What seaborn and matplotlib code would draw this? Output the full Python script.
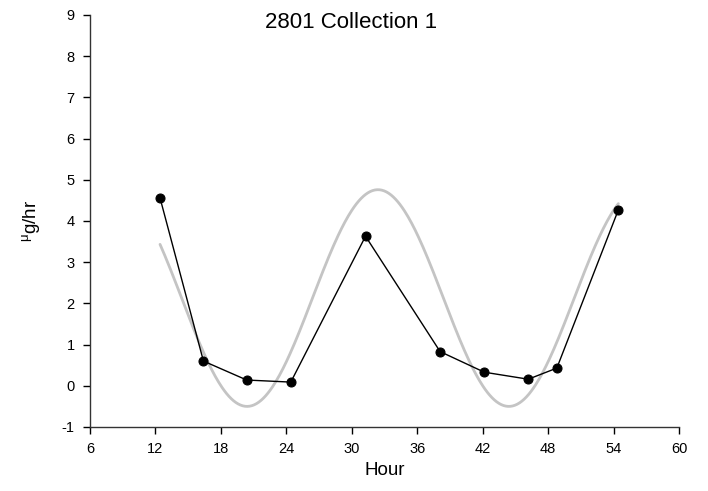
import numpy as np
import pandas as pd
import matplotlib
matplotlib.use("Agg")
import matplotlib.pyplot as plt
import seaborn as sns

# Observed data
hours = [12.42, 16.40, 20.37, 24.41, 31.26, 38.10, 42.15, 46.18, 48.80, 54.44]
rates = [4.56, 0.60, 0.14, 0.09, 3.63, 0.83, 0.33, 0.16, 0.43, 4.27]

# Fitted cosinor parameters
mesor = 2.13
amplitude = 2.63
acrophase = 32.4
period = 24.0

x_ticks = [6, 12, 18, 24, 30, 36, 42, 48, 54, 60]
y_ticks = [-1, 0, 1, 2, 3, 4, 5, 6, 7, 8, 9]

sns.set_style("ticks")
plt.rcParams["font.family"] = ["Liberation Sans", "DejaVu Sans"]
plt.rcParams["axes.unicode_minus"] = False
plt.rcParams["text.color"] = "black"
plt.rcParams["axes.labelcolor"] = "black"

fig = plt.figure(figsize=(7.08, 4.91), dpi=100)
ax = fig.add_axes([90 / 708, 1 - 427 / 491, (679 - 90) / 708, (427 - 15) / 491])

t = np.linspace(min(hours), max(hours), 400)
fit = mesor + amplitude * np.cos(2 * np.pi * (t - acrophase) / period)
fit_df = pd.DataFrame({"Hour": t, "Fit": fit})
obs_df = pd.DataFrame({"Hour": hours, "Rate": rates})

sns.lineplot(data=fit_df, x="Hour", y="Fit", ax=ax, color="#c4c4c4", linewidth=2.0)
sns.lineplot(data=obs_df, x="Hour", y="Rate", ax=ax, color="black", linewidth=1.0,
             marker="o", markersize=6.5, markeredgecolor="black", markerfacecolor="black")

ax.set_xlim(6, 60)
ax.set_ylim(-1, 9)
ax.set_xticks(x_ticks)
ax.set_yticks(y_ticks)
ax.tick_params(axis="both", direction="out", length=5, width=1, labelsize=10.5,
               colors="black", labelcolor="black", pad=6)
for s in ["top", "right"]:
    ax.spines[s].set_visible(False)
for s in ["left", "bottom"]:
    ax.spines[s].set_color("#333333")
    ax.spines[s].set_linewidth(1.0)

ax.set_xlabel("Hour", fontsize=13.5, labelpad=4, color="black")
ax.set_ylabel(r"$\mathregular{^{\mu}}$g/hr", fontsize=13.5, labelpad=14, color="black")

fig.text(351 / 708, 1 - 28 / 491, "2801 Collection 1", fontsize=16, ha="center",
         va="baseline", color="black")

fig.savefig("out.png", dpi=100)
